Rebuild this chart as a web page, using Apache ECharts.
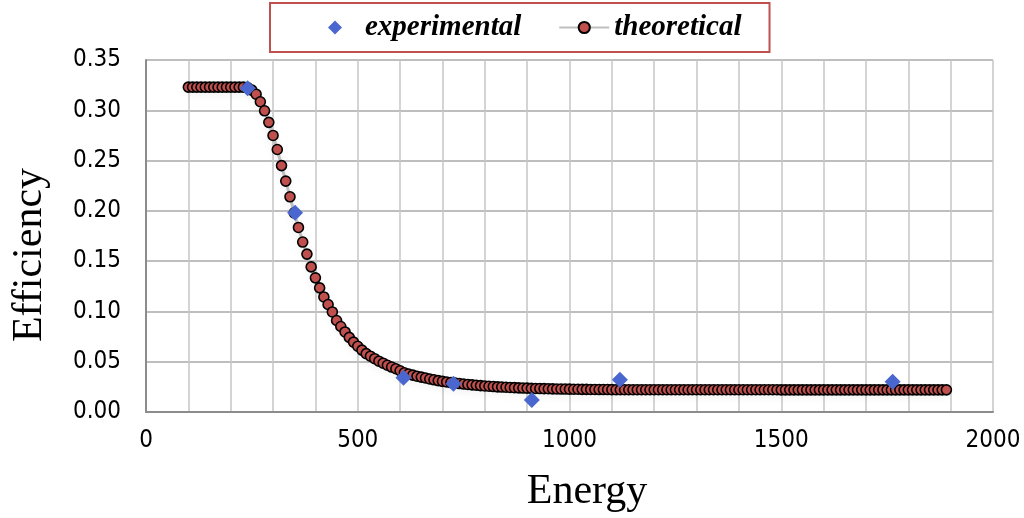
<!DOCTYPE html>
<html>
<head>
<meta charset="utf-8">
<script src="https://cdn.jsdelivr.net/npm/echarts@6/dist/echarts.min.js"></script>
<style>
	html, body { margin: 0; padding: 0; background: #fff; }
	#chartDiv { width: 1024px; height: 518px; }
</style>
</head>
<body>
<div id="chartDiv"></div>
<script>
// measured points
var expEnergy = [240, 352, 608, 726, 911, 1119, 1763];
var expEff = [0.322, 0.198, 0.034, 0.028, 0.012, 0.032, 0.030];

// theoretical curve, one point every 10 units of energy
var theoryEnergy = [
	100, 110, 120, 130, 140, 150, 160, 170, 180, 190,
	200, 210, 220, 230, 240, 250, 260, 270, 280, 290,
	300, 310, 320, 330, 340, 350, 360, 370, 380, 390,
	400, 410, 420, 430, 440, 450, 460, 470, 480, 490,
	500, 510, 520, 530, 540, 550, 560, 570, 580, 590,
	600, 610, 620, 630, 640, 650, 660, 670, 680, 690,
	700, 710, 720, 730, 740, 750, 760, 770, 780, 790,
	800, 810, 820, 830, 840, 850, 860, 870, 880, 890,
	900, 910, 920, 930, 940, 950, 960, 970, 980, 990,
	1000, 1010, 1020, 1030, 1040, 1050, 1060, 1070, 1080, 1090,
	1100, 1110, 1120, 1130, 1140, 1150, 1160, 1170, 1180, 1190,
	1200, 1210, 1220, 1230, 1240, 1250, 1260, 1270, 1280, 1290,
	1300, 1310, 1320, 1330, 1340, 1350, 1360, 1370, 1380, 1390,
	1400, 1410, 1420, 1430, 1440, 1450, 1460, 1470, 1480, 1490,
	1500, 1510, 1520, 1530, 1540, 1550, 1560, 1570, 1580, 1590,
	1600, 1610, 1620, 1630, 1640, 1650, 1660, 1670, 1680, 1690,
	1700, 1710, 1720, 1730, 1740, 1750, 1760, 1770, 1780, 1790,
	1800, 1810, 1820, 1830, 1840, 1850, 1860, 1870, 1880, 1890
];
var theoryEff = [
	0.323, 0.323, 0.323, 0.323, 0.323, 0.323, 0.323, 0.323, 0.323, 0.323,
	0.323, 0.323, 0.323, 0.323, 0.3225, 0.320, 0.316, 0.3085, 0.2995, 0.288,
	0.275, 0.261, 0.245, 0.2296, 0.214, 0.198, 0.1835, 0.169, 0.157, 0.1443,
	0.1334, 0.1234, 0.1144, 0.1069, 0.0995, 0.091, 0.085, 0.0796, 0.0742, 0.0695,
	0.0654, 0.0615, 0.058, 0.0555, 0.053, 0.0505, 0.0485, 0.0465, 0.0447, 0.043,
	0.041, 0.039, 0.0378, 0.0367, 0.0356, 0.0347, 0.0338, 0.0328, 0.032, 0.0312,
	0.0305, 0.0299, 0.0293, 0.0288, 0.0283, 0.0278, 0.0274, 0.027, 0.0266, 0.0262,
	0.0259, 0.0256, 0.0253, 0.025, 0.0248, 0.0246, 0.0244, 0.0242, 0.024, 0.0238,
	0.0237, 0.0235, 0.0234, 0.0233, 0.0232, 0.0231, 0.023, 0.0229, 0.0228, 0.0228,
	0.0227, 0.0226, 0.0226, 0.0225, 0.0225, 0.0224, 0.0224, 0.0223, 0.0223, 0.0223,
	0.0222, 0.0221, 0.0221, 0.0221, 0.0221, 0.0221, 0.0221, 0.0221, 0.0221, 0.0221,
	0.0221, 0.0221, 0.0221, 0.0221, 0.0221, 0.0221, 0.0221, 0.0221, 0.0221, 0.0221,
	0.0221, 0.0221, 0.0221, 0.0221, 0.0221, 0.0221, 0.0221, 0.0221, 0.0221, 0.0221,
	0.0221, 0.0221, 0.0221, 0.0221, 0.0221, 0.0221, 0.0221, 0.0221, 0.0221, 0.0221,
	0.022, 0.022, 0.022, 0.022, 0.022, 0.022, 0.022, 0.022, 0.022, 0.022,
	0.022, 0.022, 0.022, 0.022, 0.022, 0.022, 0.022, 0.022, 0.022, 0.022,
	0.022, 0.022, 0.022, 0.022, 0.022, 0.022, 0.022, 0.022, 0.022, 0.022,
	0.022, 0.022, 0.022, 0.022, 0.022, 0.022, 0.022, 0.022, 0.022, 0.022
];

var xTicks = [0, 500, 1000, 1500, 2000];
var yTicks = [0, 0.05, 0.10, 0.15, 0.20, 0.25, 0.30, 0.35];

function pairs(xs, ys) {
	var out = [];
	for (var i = 0; i < xs.length; i++) {
		out.push([xs[i], ys[i]]);
	}
	return out;
}

var tickFont = ['DejaVu Sans Condensed', 'Noto Sans', 'sans-serif'].join(',');

var chart = echarts.init(document.getElementById('chartDiv'));

var option = {
	animation : false,
	backgroundColor : '#fff',
	legend : {
		left : 270,
		top : 3,
		orient : 'horizontal',
		padding : [10, 28, 10, 58],
		itemGap : 37,
		itemWidth : 50,
		itemHeight : 14,
		symbolKeepAspect : true,
		borderColor : '#c0504d',
		borderWidth : 2,
		textStyle : {
			fontFamily : 'Liberation Serif',
			fontStyle : 'italic',
			fontWeight : 'bold',
			fontSize : 29,
			color : '#000'
		},
		data : [
			{ name : 'experimental', icon : 'path://M5,0L10,5L5,10L0,5Z' },
			{ name : 'theoretical' }
		]
	},
	grid : {
		left : 146,
		right : 31,
		top : 60,
		bottom : 106,
		containLabel : false
	},
	xAxis : {
		type : 'value',
		min : xTicks[0],
		max : xTicks[xTicks.length - 1],
		interval : 500,
		axisLine : { lineStyle : { color : '#8c8c8c', width : 2 } },
		axisTick : { show : false },
		minorTick : { show : false, splitNumber : 5 },
		splitLine : { show : true, lineStyle : { color : '#c6c6c6', width : 1.5 } },
		minorSplitLine : { show : true, lineStyle : { color : '#c6c6c6', width : 1.5 } },
		axisLabel : {
			margin : 17,
			fontFamily : tickFont,
			fontSize : 24,
			color : '#000',
			formatter : function(v) { return String(v); }
		}
	},
	yAxis : {
		type : 'value',
		min : yTicks[0],
		max : yTicks[yTicks.length - 1],
		interval : 0.05,
		axisLine : { show : true, lineStyle : { color : '#8c8c8c', width : 2 } },
		axisTick : { show : false },
		splitLine : { lineStyle : { color : '#a8a8a8', width : 1.5 } },
		axisLabel : {
			margin : 25,
			fontFamily : tickFont,
			fontSize : 24,
			color : '#000',
			formatter : function(v) { return v.toFixed(2); }
		}
	},
	graphic : [
		{
			type : 'text',
			x : 30,
			y : 255,
			rotation : Math.PI / 2,
			style : {
				text : 'Efficiency',
				fontFamily : 'Liberation Serif',
				fontSize : 42,
				fill : '#000',
				align : 'center',
				verticalAlign : 'middle'
			}
		},
		{
			type : 'text',
			x : 587,
			y : 492,
			style : {
				text : 'Energy',
				fontFamily : 'Liberation Serif',
				fontSize : 42,
				fill : '#000',
				align : 'center',
				verticalAlign : 'middle'
			}
		}
	],
	series : [
		{
			name : 'theoretical',
			type : 'line',
			z : 3,
			symbol : 'circle',
			symbolSize : 10,
			showSymbol : true,
			showAllSymbol : true,
			lineStyle : {
				color : '#bfbfbf',
				width : 3,
				shadowColor : 'rgba(0,0,0,0.12)',
				shadowBlur : 8,
				shadowOffsetY : 5
			},
			itemStyle : {
				color : '#c0504d',
				borderColor : '#000',
				borderWidth : 1.6
			},
			data : pairs(theoryEnergy, theoryEff)
		},
		{
			name : 'experimental',
			type : 'scatter',
			z : 5,
			symbol : 'diamond',
			symbolSize : 16,
			itemStyle : { color : '#4a66cf', opacity : 1 },
			data : pairs(expEnergy, expEff)
		}
	]
};

chart.setOption(option);
</script>
</body>
</html>
